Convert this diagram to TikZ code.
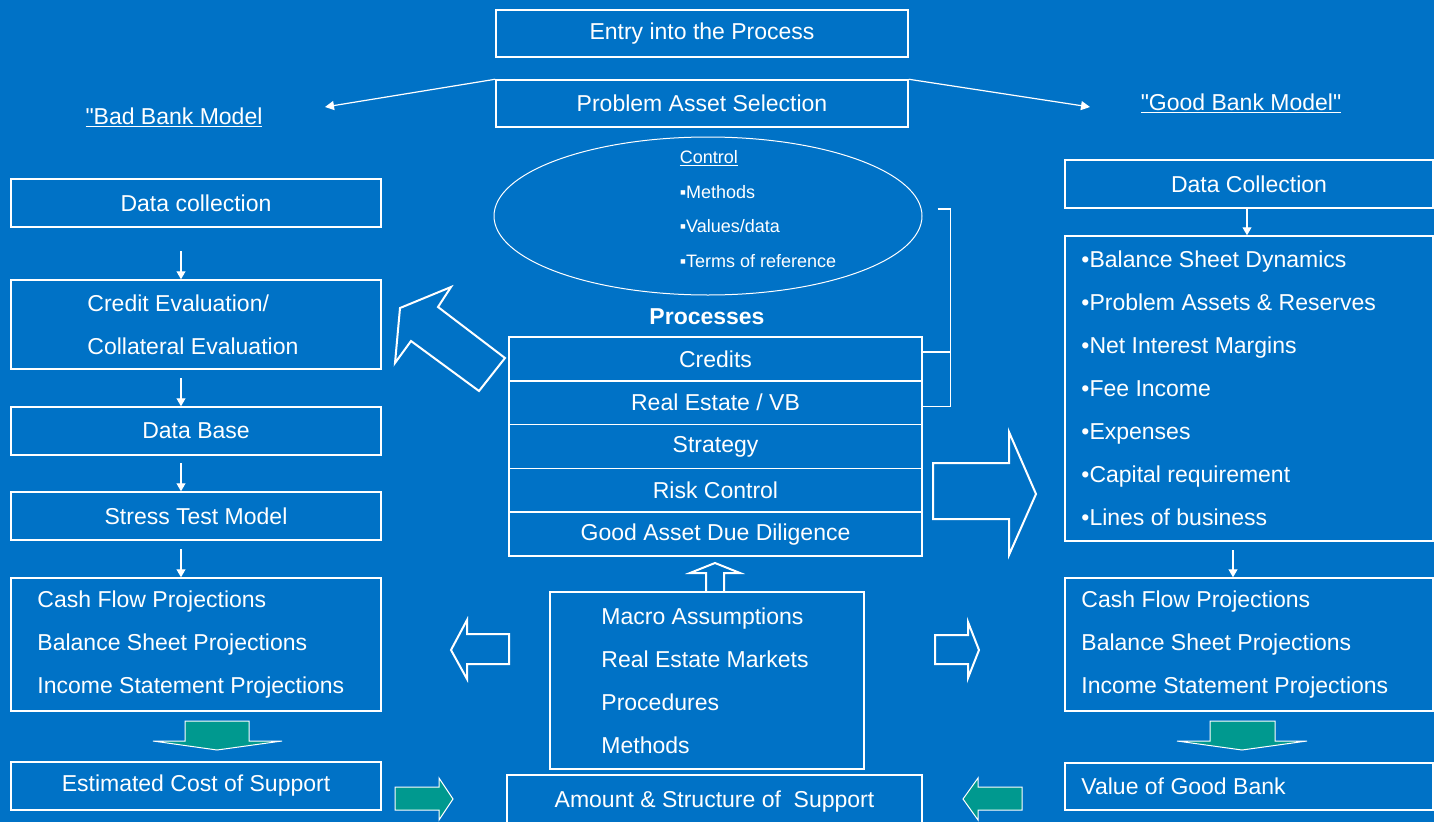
\documentclass[tikz,border=0pt]{standalone}
\usepackage{fontspec}
\setmainfont{Liberation Sans}
\usetikzlibrary{shapes.geometric,arrows.meta}
\definecolor{slideblue}{RGB}{0,114,198}
\definecolor{arrowteal}{RGB}{0,153,143}
\newcommand{\bigfont}{\fontsize{23}{43}\selectfont}
\newcommand{\ctrlfont}{\fontsize{18}{34.7}\selectfont}

\begin{document}
\begin{tikzpicture}[
      x=1pt, y=-1pt,
      every node/.style={text=white, font=\bigfont},
      box/.style={draw=white, line width=1.5pt, inner sep=0pt, minimum width=370pt, minimum height=48pt},
      rbox/.style={box, minimum width=368pt},
      midbox/.style={box, minimum width=412pt, minimum height=47pt},
      row/.style={box, minimum width=413pt, minimum height=43.8pt},
      lines/.style={anchor=west, align=left, inner sep=0pt},
      flow/.style={draw=white, line width=1.2pt, -{Triangle[width=9pt,length=8pt]}},
      pointer/.style={draw=white, line width=1.2pt, -{Triangle[width=9pt,length=9pt]}},
      hollow/.style={draw=white, line width=2pt},
      tealarrow/.style={draw=white, line width=1pt, fill=arrowteal}
    ]

    % slide background, fixes the page size
    \useasboundingbox (0,0) rectangle (1434,822);
    \fill[slideblue] (0,0) rectangle (1434,822);

    % top of the process
    \node[midbox] (entry) at (702,33.5) {Entry into the Process};
    \node[midbox] (pas) at (702,103.5) {Problem Asset Selection};
    \node (badlbl) at (174,117) {\underline{\textquotedbl Bad Bank Model}};
    \node (goodlbl) at (1241,103) {\underline{\textquotedbl Good Bank Model\textquotedbl}};
    \coordinate (badtip) at (325,107);
    \coordinate (goodtip) at (1090,107);
    \draw[pointer] (pas.north west) -- (badtip);
    \draw[pointer] (pas.north east) -- (goodtip);

    % left column: the bad bank
    \node[box] (dcl) at (196,203) {Data collection};
    \node[box, minimum height=89pt] (credit) at (196,324.5) {};
    \node[lines] (credittxt) at ([xshift=77pt]credit.west) {Credit Evaluation/\\Collateral Evaluation};
    \node[box] (dbase) at (196,431) {Data Base};
    \node[box] (stress) at (196,516) {Stress Test Model};
    \node[box, minimum height=133pt] (lproj) at (196,644.5) {};
    \node[lines] (lprojtxt) at ([xshift=27pt]lproj.west) {Cash Flow Projections\\Balance Sheet Projections\\Income Statement Projections};
    \node[box] (cost) at (196,786) {Estimated Cost of Support};
    \foreach \b in {credit, dbase, stress, lproj}
      \draw[flow] ([xshift=-15pt,yshift=28pt]\b.north) -- ([xshift=-15pt]\b.north);
    \draw[tealarrow] (185,721) -- (249,721) -- (249,741) -- (282,741) -- (217,750) -- (153,741) -- (185,741) -- cycle;

    % control ellipse and the processes
    \node[draw=white, line width=1pt, ellipse, minimum width=428pt, minimum height=158pt, inner sep=0pt] (ctrl) at (708,216) {};
    \node[align=left, font=\ctrlfont] (ctrltxt) at (758,209) {\underline{Control}\\▪Methods\\▪Values/data\\▪Terms of reference};
    \node[font=\bfseries\bigfont] (proclbl) at (707,317) {Processes};
    \foreach \t [count=\i] in {Credits, {Real Estate / VB}, Strategy, Risk Control, Good Asset Due Diligence}
      \node[row] (row\i) at (715.5,315.1+43.8*\i) {\t};
    \draw[draw=white, line width=1.2pt] ([xshift=15pt,yshift=7pt]ctrl.east) -| ([xshift=28pt,yshift=-4pt]row2.east) -- ([yshift=-4pt]row2.east);
    \draw[draw=white, line width=1.2pt] ([yshift=7pt]row1.east) -- ++(28,0);

    % big hollow arrows out of the processes
    \draw[hollow] (395,363) -- (400,308) -- (451,287) -- (438,307) -- (505,358) -- (479,391) -- (411,341) -- cycle;
    \draw[hollow] (933,463) -- (1009,463) -- (1009,432) -- (1036,494) -- (1009,555) -- (1009,519) -- (933,519) -- cycle;

    % assumptions feed both sides
    \node[box, minimum width=314pt, minimum height=177pt] (assume) at (707,680.5) {};
    \node[lines] (assumetxt) at ([xshift=52pt]assume.west) {Macro Assumptions\\Real Estate Markets\\Procedures\\Methods};
    \draw[hollow] (706,592) -- (706,573) -- (690,573) -- (715,563) -- (740,573) -- (724,573) -- (724,592);
    \draw[hollow] (509,634) -- (467,634) -- (467,620) -- (451,650) -- (467,679) -- (467,664) -- (509,664) -- cycle;
    \draw[hollow] (935,635) -- (968,635) -- (968,622) -- (979,650) -- (968,678) -- (968,664) -- (935,664) -- cycle;

    % result at the bottom
    \node[box, minimum width=415pt, minimum height=53pt] (amount) at (714.5,801.5) {Amount \& Structure of\ \ Support};
    \draw[tealarrow] (395,787) -- (439,787) -- (439,778) -- (453,799) -- (439,820) -- (439,810) -- (395,810) -- cycle;
    \draw[tealarrow] (1022,787) -- (978,787) -- (978,778) -- (963,799) -- (978,820) -- (978,810) -- (1022,810) -- cycle;

    % right column: the good bank
    \node[rbox] (rdc) at (1249,184) {Data Collection};
    \node[rbox, minimum height=305pt] (factors) at (1249,388.5) {};
    \node[lines] (factorstxt) at ([xshift=17pt]factors.west) {•Balance Sheet Dynamics\\•Problem Assets \& Reserves\\•Net Interest Margins\\•Fee Income\\•Expenses\\•Capital requirement\\•Lines of business};
    \node[rbox, minimum height=133pt] (rproj) at (1249,644.5) {};
    \node[lines] (rprojtxt) at ([xshift=17pt]rproj.west) {Cash Flow Projections\\Balance Sheet Projections\\Income Statement Projections};
    \node[rbox, minimum height=47pt] (goodval) at (1249,786.5) {};
    \node[lines] (goodvaltxt) at ([xshift=17pt]goodval.west) {Value of Good Bank};
    \draw[flow] ([xshift=-2pt,yshift=28pt]factors.north) -- ([xshift=-2pt]factors.north);
    \draw[flow] ([xshift=-16pt,yshift=27pt]rproj.north) -- ([xshift=-16pt]rproj.north);
    \draw[tealarrow] (1210,721) -- (1275,721) -- (1275,741) -- (1307,741) -- (1242,750) -- (1177,741) -- (1210,741) -- cycle;
\end{tikzpicture}
\end{document}
